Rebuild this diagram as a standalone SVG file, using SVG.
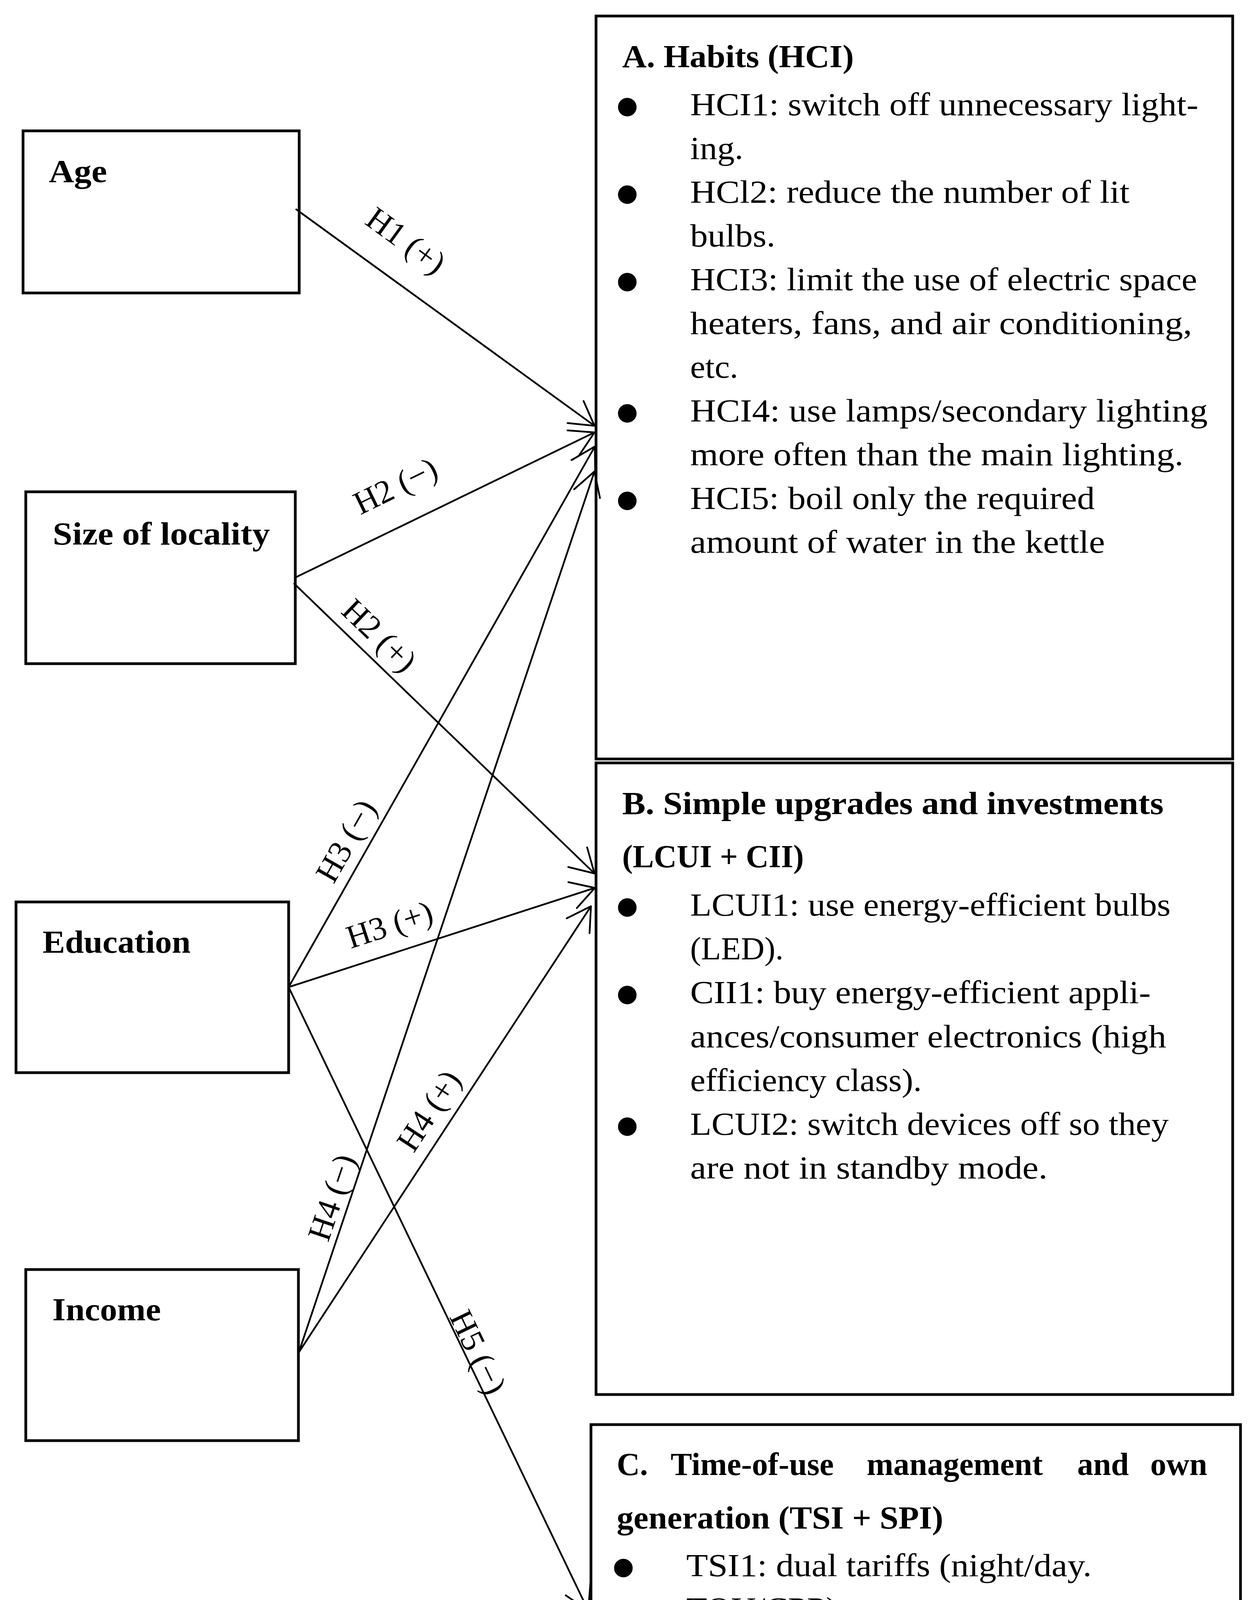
<svg xmlns="http://www.w3.org/2000/svg" width="3208" height="4625" viewBox="0 0 3208 4625">
<style>
.bg{fill:#fff}
.box{fill:none;stroke:#000;stroke-width:7}
.conn{fill:none;stroke:#000;stroke-width:4.5;marker-end:url(#arr)}
.t{font-family:"Liberation Serif","DejaVu Serif",serif;font-size:82px;fill:#000}
.b{font-weight:bold}
.lbl{font-family:"Liberation Serif","DejaVu Serif",serif;font-size:84px;fill:#000;text-anchor:middle}
.bul{font-family:"Liberation Serif","DejaVu Serif",serif;font-size:200px;fill:#000;text-anchor:middle}
</style>
<defs>
<marker id="arr" markerUnits="userSpaceOnUse" viewBox="-2 -2 66 74" refX="60" refY="35" markerWidth="66" markerHeight="74" orient="auto">
<path d="M0,0 L60,35 L0,70" fill="none" stroke="#000" stroke-width="4.5" stroke-linecap="round" stroke-linejoin="round"/>
</marker>
</defs>
<rect class="bg" x="0" y="0" width="3208" height="4625"/>

<g id="node-age">
<rect class="box" x="59" y="335" width="707" height="415"/>
<text class="t b" x="125" y="466" textLength="149" lengthAdjust="spacingAndGlyphs">Age</text>
</g>
<g id="node-size">
<rect class="box" x="66" y="1259" width="690" height="440"/>
<text class="t b" x="135" y="1394" textLength="556" lengthAdjust="spacingAndGlyphs">Size of locality</text>
</g>
<g id="node-education">
<rect class="box" x="41" y="2309" width="698" height="437"/>
<text class="t b" x="109" y="2439" textLength="379" lengthAdjust="spacingAndGlyphs">Education</text>
</g>
<g id="node-income">
<rect class="box" x="66" y="3250" width="698" height="438"/>
<text class="t b" x="134" y="3380" textLength="278" lengthAdjust="spacingAndGlyphs">Income</text>
</g>

<g id="node-A">
<rect class="box" x="1526" y="41" width="1630" height="1902"/>
<text class="t b" x="1593" y="172" textLength="593" lengthAdjust="spacingAndGlyphs">A. Habits (HCI)</text>
<text class="bul" x="1606" y="340">•</text>
<text class="bul" x="1606" y="564">•</text>
<text class="bul" x="1606" y="788">•</text>
<text class="bul" x="1606" y="1124">•</text>
<text class="bul" x="1606" y="1348">•</text>
<text class="t" x="1767" y="295" textLength="1301" lengthAdjust="spacingAndGlyphs">HCI1: switch off unnecessary light-</text>
<text class="t" x="1767" y="407" textLength="136" lengthAdjust="spacingAndGlyphs">ing.</text>
<text class="t" x="1767" y="519" textLength="1125" lengthAdjust="spacingAndGlyphs">HCl2: reduce the number of lit</text>
<text class="t" x="1767" y="631" textLength="218" lengthAdjust="spacingAndGlyphs">bulbs.</text>
<text class="t" x="1767" y="743" textLength="1298" lengthAdjust="spacingAndGlyphs">HCI3: limit the use of electric space</text>
<text class="t" x="1767" y="855" textLength="1285" lengthAdjust="spacingAndGlyphs">heaters, fans, and air conditioning,</text>
<text class="t" x="1767" y="967" textLength="123" lengthAdjust="spacingAndGlyphs">etc.</text>
<text class="t" x="1767" y="1079" textLength="1325" lengthAdjust="spacingAndGlyphs">HCI4: use lamps/secondary lighting</text>
<text class="t" x="1767" y="1191" textLength="1263" lengthAdjust="spacingAndGlyphs">more often than the main lighting.</text>
<text class="t" x="1767" y="1303" textLength="1036" lengthAdjust="spacingAndGlyphs">HCI5: boil only the required</text>
<text class="t" x="1767" y="1415" textLength="1062" lengthAdjust="spacingAndGlyphs">amount of water in the kettle</text>
</g>

<g id="node-B">
<rect class="box" x="1526" y="1953" width="1630" height="1617"/>
<text class="t b" x="1593" y="2084" textLength="1386" lengthAdjust="spacingAndGlyphs">B. Simple upgrades and investments</text>
<text class="t b" x="1593" y="2220" textLength="465" lengthAdjust="spacingAndGlyphs">(LCUI + CII)</text>
<text class="bul" x="1606" y="2389">•</text>
<text class="bul" x="1606" y="2613">•</text>
<text class="bul" x="1606" y="2950">•</text>
<text class="t" x="1767" y="2344" textLength="1230" lengthAdjust="spacingAndGlyphs">LCUI1: use energy-efficient bulbs</text>
<text class="t" x="1767" y="2456" textLength="239" lengthAdjust="spacingAndGlyphs">(LED).</text>
<text class="t" x="1767" y="2568" textLength="1179" lengthAdjust="spacingAndGlyphs">CII1: buy energy-efficient appli-</text>
<text class="t" x="1767" y="2681" textLength="1219" lengthAdjust="spacingAndGlyphs">ances/consumer electronics (high</text>
<text class="t" x="1767" y="2793" textLength="593" lengthAdjust="spacingAndGlyphs">efficiency class).</text>
<text class="t" x="1767" y="2905" textLength="1225" lengthAdjust="spacingAndGlyphs">LCUI2: switch devices off so they</text>
<text class="t" x="1767" y="3017" textLength="915" lengthAdjust="spacingAndGlyphs">are not in standby mode.</text>
</g>

<g id="node-C">
<rect class="box" x="1513" y="3647" width="1663" height="944"/>
<text class="t b" y="3776"><tspan x="1579">C.</tspan> <tspan x="1717">Time-of-use</tspan> <tspan x="2219">management</tspan> <tspan x="2758">and</tspan> <tspan x="2945">own</tspan></text>
<text class="t b" x="1579" y="3913" textLength="836" lengthAdjust="spacingAndGlyphs">generation (TSI + SPI)</text>
<text class="bul" x="1596" y="4080">•</text>
<text class="bul" x="1596" y="4306">•</text>
<text class="t" x="1757" y="4035" textLength="1038" lengthAdjust="spacingAndGlyphs">TSI1: dual tariffs (night/day.</text>
<text class="t" x="1757" y="4146" textLength="387" lengthAdjust="spacingAndGlyphs">TOU/CPP)</text>
<text class="t" x="1757" y="4261" textLength="1167" lengthAdjust="spacingAndGlyphs">SPI1: alternative energy sources</text>
<text class="t" x="1757" y="4372" textLength="326" lengthAdjust="spacingAndGlyphs">(PV, etc.)</text>
</g>

<g id="connectors">
<line class="conn" x1="757" y1="535" x2="1522" y2="1090"/>
<line class="conn" x1="755" y1="1479" x2="1522" y2="1107"/>
<line class="conn" x1="752" y1="1493" x2="1522" y2="2236"/>
<line class="conn" x1="739" y1="2527" x2="1523" y2="1143"/>
<line class="conn" x1="739" y1="2527" x2="1523" y2="2273"/>
<line class="conn" x1="739" y1="2527" x2="1506" y2="4123"/>
<line class="conn" x1="765" y1="3462" x2="1522" y2="1207"/>
<line class="conn" x1="765" y1="3462" x2="1513" y2="2320"/>
<text class="lbl" transform="translate(1040,615) rotate(36)" y="29">H1 (+)</text>
<text class="lbl" transform="translate(1012,1243) rotate(-26)" y="29">H2 (−)</text>
<text class="lbl" transform="translate(972,1626) rotate(44)" y="29">H2 (+)</text>
<text class="lbl" transform="translate(885,2152) rotate(-60.4)" y="29">H3 (−)</text>
<text class="lbl" transform="translate(997,2366) rotate(-18)" y="29">H3 (+)</text>
<text class="lbl" transform="translate(1097,2843) rotate(-56.8)" y="29">H4 (+)</text>
<text class="lbl" transform="translate(849,3065) rotate(-71.4)" y="29">H4 (−)</text>
<text class="lbl" transform="translate(1225,3461) rotate(64.3)" y="29">H5 (−)</text>
</g>
</svg>
